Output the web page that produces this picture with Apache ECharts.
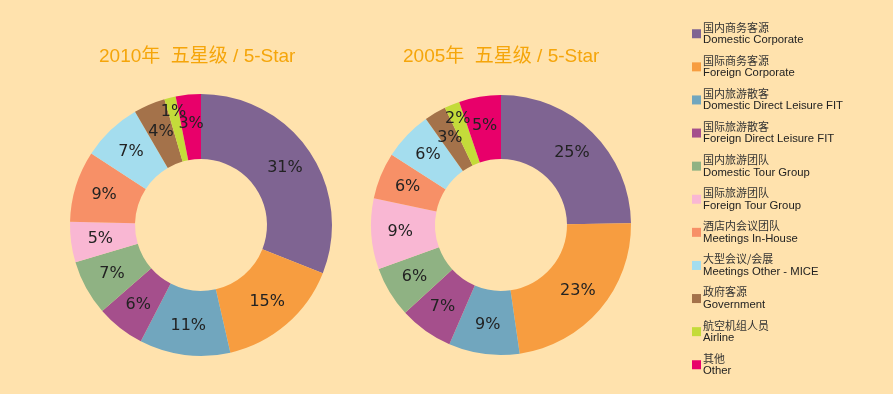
<!DOCTYPE html>
<html>
<head>
<meta charset="utf-8">
<script src="https://cdn.jsdelivr.net/npm/echarts@6/dist/echarts.min.js"></script>
<style>
  html, body { margin: 0; padding: 0; background: #fff; }
  #chart { width: 893px; height: 394px; background: #FFE2AD; }
</style>
</head>
<body>
<div id="chart"></div>
<script>
// segment names (cn / en)
var namesCn = ['国内商务客源', '国际商务客源', '国内旅游散客', '国际旅游散客', '国内旅游团队', '国际旅游团队',
  '酒店内会议团队', '大型会议/会展', '政府客源', '航空机组人员', '其他'];
var namesEn = ['Domestic Corporate', 'Foreign Corporate', 'Domestic Direct Leisure FIT', 'Foreign Direct Leisure FIT',
  'Domestic Tour Group', 'Foreign Tour Group', 'Meetings In-House', 'Meetings Other - MICE', 'Government', 'Airline', 'Other'];

// share in percent (labels show rounded value)
var values2010 = [31.0, 15.4, 11.2, 6.0, 6.8, 5.0, 8.8, 7.4, 3.9, 1.4, 3.1];
var values2005 = [24.8, 22.9, 8.8, 6.7, 6.3, 8.8, 5.8, 6.1, 2.7, 1.9, 5.2];

var colors = ['#7F6492', '#F79D40', '#71A6BE', '#A54F8C', '#8FB283', '#F9B7D3',
  '#F79067', '#A4DDEE', '#A4724A', '#C4DB3A', '#E8006A'];

function makeData(vals) {
  return vals.map(function (v, i) {
    var d = { name: namesCn[i], value: v };
    // too thin for an inside label -> push it a bit out like the original
    if (v < 2.5) d.label = { position: 'outside' };
    return d;
  });
}

function pieSeries(vals, cx, r) {
  return {
    type: 'pie',
    center: [cx, 225],
    radius: [66, r],
    startAngle: 90,
    clockwise: true,
    avoidLabelOverlap: false,
    silent: true,
    itemStyle: { borderWidth: 0 },
    label: {
      show: true,
      position: 'inside',
      overflow: 'none',
      distanceToLabelLine: 0,
      formatter: function (p) { return Math.round(p.value) + '%'; },
      color: '#222',
      fontSize: 16,
      fontFamily: '"DejaVu Sans", sans-serif'
    },
    labelLine: { show: false, length: -15, length2: 0 },
    labelLayout: function () { return { align: 'center' }; },
    data: makeData(vals)
  };
}

var chart = echarts.init(document.getElementById('chart'));
chart.setOption({
  color: colors,
  animation: false,
  title: [
    { text: '2010年  五星级 / 5-Star', left: 94, top: 42,
      textStyle: { color: '#F5A50A', fontSize: 19, fontWeight: 'normal', fontFamily: '"Liberation Sans", "Noto Sans CJK SC", sans-serif' } },
    { text: '2005年  五星级 / 5-Star', left: 398, top: 42,
      textStyle: { color: '#F5A50A', fontSize: 19, fontWeight: 'normal', fontFamily: '"Liberation Sans", "Noto Sans CJK SC", sans-serif' } }
  ],
  legend: {
    orient: 'vertical',
    left: 687,
    top: 17,
    icon: 'rect',
    itemWidth: 9,
    itemHeight: 9,
    itemGap: 9.6,
    selectedMode: false,
    data: namesCn,
    formatter: function (name) {
      var i = namesCn.indexOf(name);
      return '{cn|' + name + '}\n{en|' + namesEn[i] + '}';
    },
    textStyle: {
      padding: [0, 0, 0, -3],
      rich: {
        cn: { fontSize: 11, lineHeight: 12.5, color: '#333', fontFamily: '"Noto Sans CJK SC", sans-serif' },
        en: { fontSize: 11.3, lineHeight: 12.5, color: '#222', fontFamily: '"Liberation Sans", sans-serif' }
      }
    }
  },
  series: [pieSeries(values2010, 201, 131), pieSeries(values2005, 501, 130)]
});
</script>
</body>
</html>
